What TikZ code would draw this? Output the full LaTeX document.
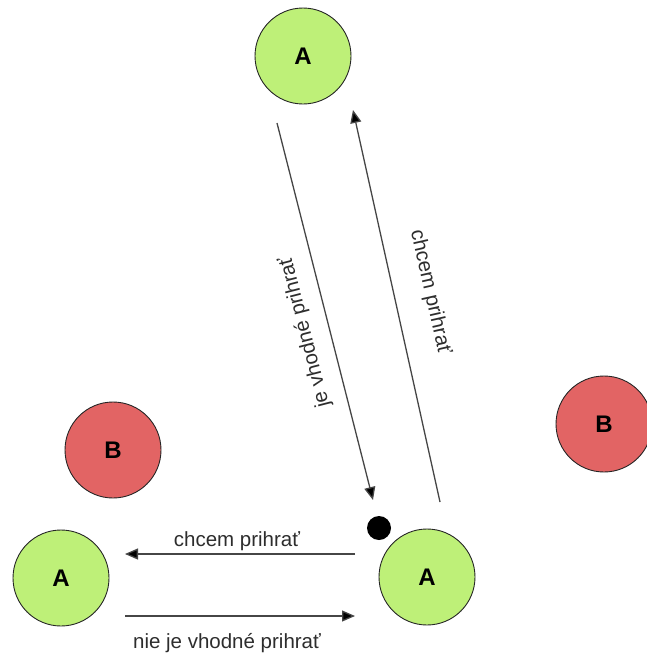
\documentclass[tikz,border=0pt]{standalone}
\usepackage{fontspec}
\setmainfont{Liberation Sans}
\usetikzlibrary{arrows.meta}
\definecolor{playerA}{RGB}{190,240,120}
\definecolor{playerB}{RGB}{226,100,100}
\definecolor{labelgray}{RGB}{45,45,45}
\definecolor{linegray}{RGB}{70,70,70}

\begin{document}
\begin{tikzpicture}[x=1pt,y=-1pt,
  player/.style={circle, draw=black!85, line width=0.9pt, minimum size=96pt,
    inner sep=0pt, font=\fontsize{24}{24}\selectfont\bfseries},
  teamA/.style={player, fill=playerA},
  teamB/.style={player, fill=playerB},
  ballstyle/.style={circle, fill=black, minimum size=24pt, inner sep=0pt},
  pass/.style={draw=linegray, line width=1.3pt,
    -{Triangle[length=13pt,width=11pt,fill=black]}},
  lbl/.style={font=\fontsize{20.5}{20.5}\selectfont, text=labelgray, inner sep=0pt}]
\useasboundingbox (0,0) rectangle (647,653);

% players
\node[teamA] (atop)   at (303,56)  {A};
\node[teamA] (aleft)  at (61,578)  {A};
\node[teamA] (aright) at (427,577) {A};
\node[teamB] (bleft)  at (113,450) {B};
\node[teamB] (bright) at (604,424) {B};

% ball
\node[ballstyle] (ball) at (379,528) {};

% end points of the passing arrows
\coordinate (downstart) at (277,123);
\coordinate (downend)   at (373,500);
\coordinate (upstart)   at (440,502);
\coordinate (upend)     at (353,110);
\coordinate (lstart)    at (355,554);
\coordinate (lend)      at (125,554);
\coordinate (rstart)    at (125,616);
\coordinate (rend)      at (355,616);

% passes
\draw[pass] (downstart) -- (downend);
\draw[pass] (upstart) -- (upend);
\draw[pass] (lstart) -- (lend);
\draw[pass] (rstart) -- (rend);

% labels
\node[lbl, rotate=104.4] (ldown) at (305,332) {je vhodné prihrať};
\node[lbl, rotate=-77.2] (lup)   at (430,292) {chcem prihrať};
\node[lbl, anchor=base]  (lleft) at (237,546) {chcem prihrať};
\node[lbl, anchor=base]  (lright) at (227,648) {nie je vhodné prihrať};
\end{tikzpicture}
\end{document}
